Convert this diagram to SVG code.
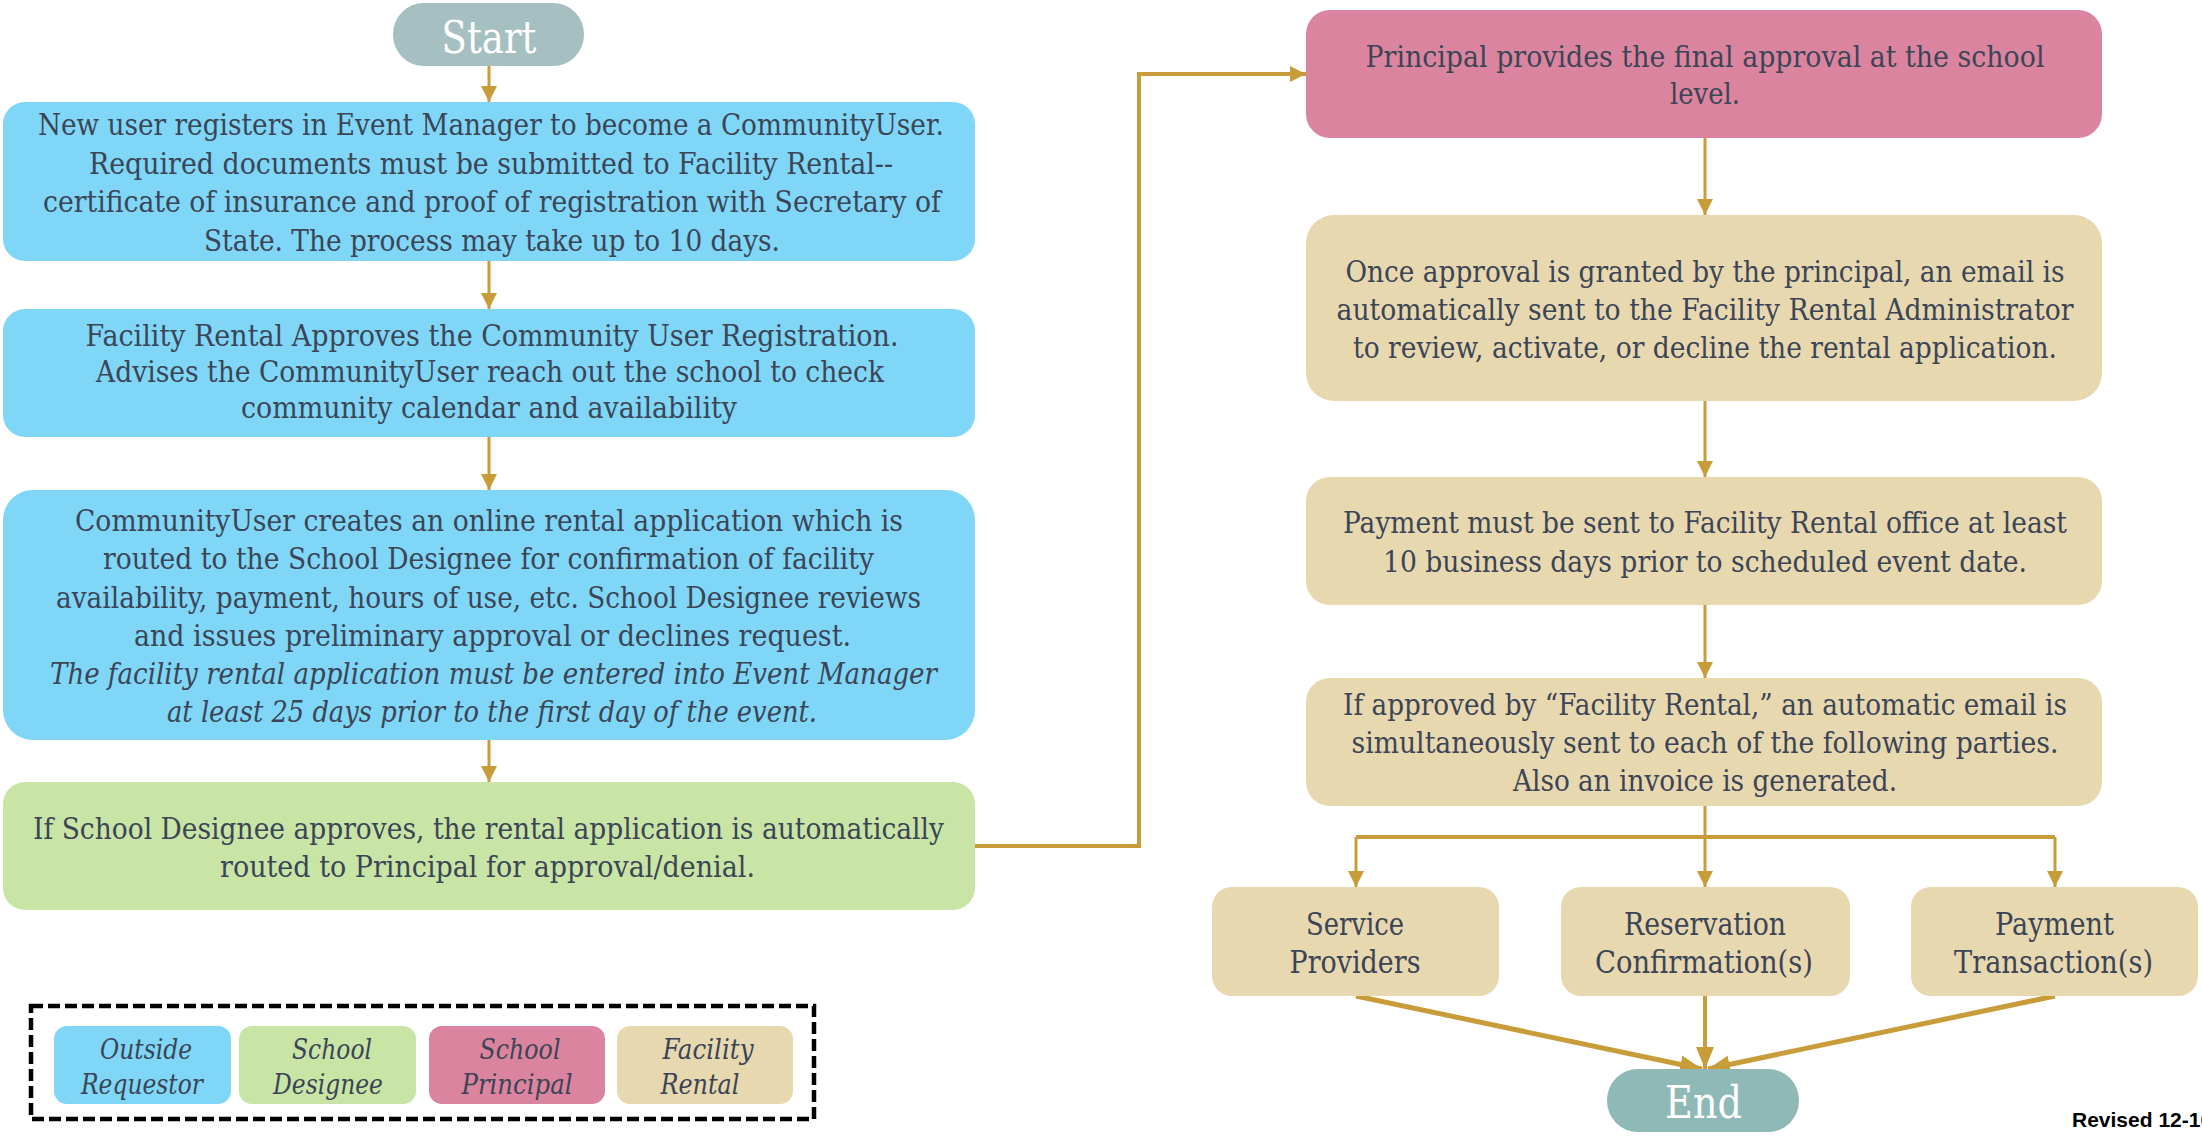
<svg xmlns="http://www.w3.org/2000/svg" width="2202" height="1139" viewBox="0 0 2202 1139">
<style>
.t{font-family:"DejaVu Serif","Liberation Serif",serif;font-size:29.5px;fill:#3b4556;text-anchor:middle}
.i{font-style:italic}
.s{font-size:32px}
.lg{font-size:28px;font-style:italic}
.term{font-family:"DejaVu Serif","Liberation Serif",serif;fill:#ffffff;text-anchor:middle}
.blue{fill:#7fd6f7}
.green{fill:#c9e5a6}
.pink{fill:#db849f}
.tan{fill:#e8d8b0}
.c{fill:none;stroke:#c99c3a;stroke-width:3}
.c4{fill:none;stroke:#c99c3a;stroke-width:4}
.c5{fill:none;stroke:#c99c3a;stroke-width:5}
</style>
<defs>
<marker id="ah" markerUnits="userSpaceOnUse" markerWidth="18" markerHeight="18" refX="16" refY="8" orient="auto">
<path d="M0,0 L16,8 L0,16 z" fill="#c99c3a"/>
</marker>
<marker id="ahb" markerUnits="userSpaceOnUse" markerWidth="24" markerHeight="20" refX="22" refY="9" orient="auto">
<path d="M0,0 L22,9 L0,18 z" fill="#c99c3a"/>
</marker>
</defs>
<rect width="2202" height="1139" fill="#ffffff"/>

<g id="connectors">
<line class="c" x1="489" y1="66" x2="489" y2="102" marker-end="url(#ah)"/>
<line class="c" x1="489" y1="261" x2="489" y2="309" marker-end="url(#ah)"/>
<line class="c" x1="489" y1="437" x2="489" y2="490" marker-end="url(#ah)"/>
<line class="c" x1="489" y1="740" x2="489" y2="782" marker-end="url(#ah)"/>
<path class="c4" d="M975,846 H1139 V74 H1306" marker-end="url(#ah)"/>
<line class="c" x1="1705" y1="138" x2="1705" y2="215" marker-end="url(#ah)"/>
<line class="c" x1="1705" y1="401" x2="1705" y2="477" marker-end="url(#ah)"/>
<line class="c" x1="1705" y1="605" x2="1705" y2="678" marker-end="url(#ah)"/>
<line class="c" x1="1705" y1="806" x2="1705" y2="837"/>
<path class="c4" d="M1356,837 H2055"/>
<line class="c" x1="1356" y1="837" x2="1356" y2="887" marker-end="url(#ah)"/>
<line class="c" x1="1705" y1="837" x2="1705" y2="887" marker-end="url(#ah)"/>
<line class="c" x1="2055" y1="837" x2="2055" y2="887" marker-end="url(#ah)"/>
<line class="c5" x1="1356" y1="996" x2="1702" y2="1069" marker-end="url(#ahb)"/>
<line class="c4" x1="1705" y1="996" x2="1705" y2="1069" marker-end="url(#ahb)"/>
<line class="c5" x1="2055" y1="996" x2="1708" y2="1069" marker-end="url(#ahb)"/>
</g>

<g id="start">
<rect x="393" y="3" width="191" height="63" rx="31" fill="#a6c0c1"/>
<text class="term" x="489" y="53" font-size="45" textLength="95" lengthAdjust="spacingAndGlyphs">Start</text>
</g>

<g id="register">
<rect class="blue" x="3" y="102" width="972" height="159" rx="22"/>
<text class="t" x="491" y="135" textLength="906" lengthAdjust="spacingAndGlyphs">New user registers in Event Manager to become a CommunityUser.</text>
<text class="t" x="491" y="173.5" textLength="804" lengthAdjust="spacingAndGlyphs">Required documents must be submitted to Facility Rental--</text>
<text class="t" x="492" y="212" textLength="898" lengthAdjust="spacingAndGlyphs">certificate of insurance and proof of registration with Secretary of</text>
<text class="t" x="492" y="250.5" textLength="576" lengthAdjust="spacingAndGlyphs">State. The process may take up to 10 days.</text>
</g>

<g id="approve-registration">
<rect class="blue" x="3" y="309" width="972" height="128" rx="22"/>
<text class="t" x="492" y="346" textLength="813" lengthAdjust="spacingAndGlyphs">Facility Rental Approves the Community  User Registration.</text>
<text class="t" x="490" y="382" textLength="788" lengthAdjust="spacingAndGlyphs">Advises the CommunityUser reach out the school to check</text>
<text class="t" x="489" y="418" textLength="496" lengthAdjust="spacingAndGlyphs">community calendar and availability</text>
</g>

<g id="application">
<rect class="blue" x="3" y="490" width="972" height="250" rx="30"/>
<text class="t" x="489" y="530.5" textLength="828" lengthAdjust="spacingAndGlyphs">CommunityUser creates an online rental application which is</text>
<text class="t" x="488.5" y="569" textLength="771" lengthAdjust="spacingAndGlyphs">routed to the School Designee for confirmation of facility</text>
<text class="t" x="488.5" y="607.5" textLength="865" lengthAdjust="spacingAndGlyphs">availability, payment, hours of use, etc. School Designee reviews</text>
<text class="t" x="492.5" y="646" textLength="717" lengthAdjust="spacingAndGlyphs">and issues preliminary approval or declines request.</text>
<text class="t i" x="493.5" y="684" textLength="887" lengthAdjust="spacingAndGlyphs">The facility rental application must be entered into Event Manager</text>
<text class="t i" x="492" y="722" textLength="650" lengthAdjust="spacingAndGlyphs">at least 25 days prior to the first day of the event.</text>
</g>

<g id="designee">
<rect class="green" x="3" y="782" width="972" height="128" rx="22"/>
<text class="t" x="488.5" y="839" textLength="911" lengthAdjust="spacingAndGlyphs">If School Designee approves, the rental application is automatically</text>
<text class="t" x="487.5" y="877" textLength="535" lengthAdjust="spacingAndGlyphs">routed to Principal for approval/denial.</text>
</g>

<g id="principal">
<rect class="pink" x="1306" y="10" width="796" height="128" rx="24"/>
<text class="t" x="1705" y="66.5" textLength="679" lengthAdjust="spacingAndGlyphs">Principal provides the final approval at the school</text>
<text class="t" x="1705" y="104" textLength="70" lengthAdjust="spacingAndGlyphs">level.</text>
</g>

<g id="email-admin">
<rect class="tan" x="1306" y="215" width="796" height="186" rx="28"/>
<text class="t" x="1705" y="281.5" textLength="719" lengthAdjust="spacingAndGlyphs">Once approval is granted by the principal, an email is</text>
<text class="t" x="1705" y="320" textLength="737" lengthAdjust="spacingAndGlyphs">automatically sent to the Facility Rental Administrator</text>
<text class="t" x="1705" y="358" textLength="704" lengthAdjust="spacingAndGlyphs">to review, activate, or decline the rental application.</text>
</g>

<g id="payment">
<rect class="tan" x="1306" y="477" width="796" height="128" rx="24"/>
<text class="t" x="1705" y="533" textLength="724" lengthAdjust="spacingAndGlyphs">Payment must be sent to Facility Rental office at least</text>
<text class="t" x="1705" y="571.5" textLength="644" lengthAdjust="spacingAndGlyphs">10 business days prior to scheduled event date.</text>
</g>

<g id="facility-approved">
<rect class="tan" x="1306" y="678" width="796" height="128" rx="24"/>
<text class="t" x="1705" y="715" textLength="724" lengthAdjust="spacingAndGlyphs">If approved by “Facility Rental,” an automatic email is</text>
<text class="t" x="1705" y="753" textLength="707" lengthAdjust="spacingAndGlyphs">simultaneously sent to each of the following parties.</text>
<text class="t" x="1705" y="791" textLength="384" lengthAdjust="spacingAndGlyphs">Also an invoice is generated.</text>
</g>

<g id="service-providers">
<rect class="tan" x="1212" y="887" width="287" height="109" rx="20"/>
<text class="t s" x="1355" y="935" textLength="98" lengthAdjust="spacingAndGlyphs">Service</text>
<text class="t s" x="1355" y="973" textLength="131" lengthAdjust="spacingAndGlyphs">Providers</text>
</g>

<g id="reservation">
<rect class="tan" x="1561" y="887" width="289" height="109" rx="20"/>
<text class="t s" x="1705" y="935" textLength="162" lengthAdjust="spacingAndGlyphs">Reservation</text>
<text class="t s" x="1704" y="973" textLength="218" lengthAdjust="spacingAndGlyphs">Confirmation(s)</text>
</g>

<g id="payment-transaction">
<rect class="tan" x="1911" y="887" width="287" height="109" rx="20"/>
<text class="t s" x="2054.5" y="935" textLength="119" lengthAdjust="spacingAndGlyphs">Payment</text>
<text class="t s" x="2053.5" y="973" textLength="199" lengthAdjust="spacingAndGlyphs">Transaction(s)</text>
</g>

<g id="end">
<rect x="1607" y="1069" width="192" height="63" rx="31" fill="#8fb9b7"/>
<text class="term" x="1703.5" y="1118" font-size="44" textLength="77" lengthAdjust="spacingAndGlyphs">End</text>
</g>

<g id="legend">
<rect x="31" y="1006" width="783" height="113" fill="none" stroke="#000000" stroke-width="4.5" stroke-dasharray="12 5"/>
<rect class="blue" x="54" y="1026" width="177" height="78" rx="13"/>
<text class="t lg" x="146" y="1059" textLength="92" lengthAdjust="spacingAndGlyphs">Outside</text>
<text class="t lg" x="142" y="1094" textLength="122" lengthAdjust="spacingAndGlyphs">Requestor</text>
<rect class="green" x="239" y="1026" width="177" height="78" rx="13"/>
<text class="t lg" x="332" y="1059" textLength="80" lengthAdjust="spacingAndGlyphs">School</text>
<text class="t lg" x="328" y="1094" textLength="110" lengthAdjust="spacingAndGlyphs">Designee</text>
<rect class="pink" x="429" y="1026" width="176" height="78" rx="13"/>
<text class="t lg" x="520" y="1059" textLength="81" lengthAdjust="spacingAndGlyphs">School</text>
<text class="t lg" x="517" y="1094" textLength="111" lengthAdjust="spacingAndGlyphs">Principal</text>
<rect class="tan" x="617" y="1026" width="176" height="78" rx="13"/>
<text class="t lg" x="708" y="1059" textLength="91" lengthAdjust="spacingAndGlyphs">Facility</text>
<text class="t lg" x="700" y="1094" textLength="79" lengthAdjust="spacingAndGlyphs">Rental</text>
</g>

<text x="2072" y="1127" font-family="'Liberation Sans',Arial,sans-serif" font-weight="bold" font-size="21" fill="#000000">Revised 12-10</text>
</svg>
